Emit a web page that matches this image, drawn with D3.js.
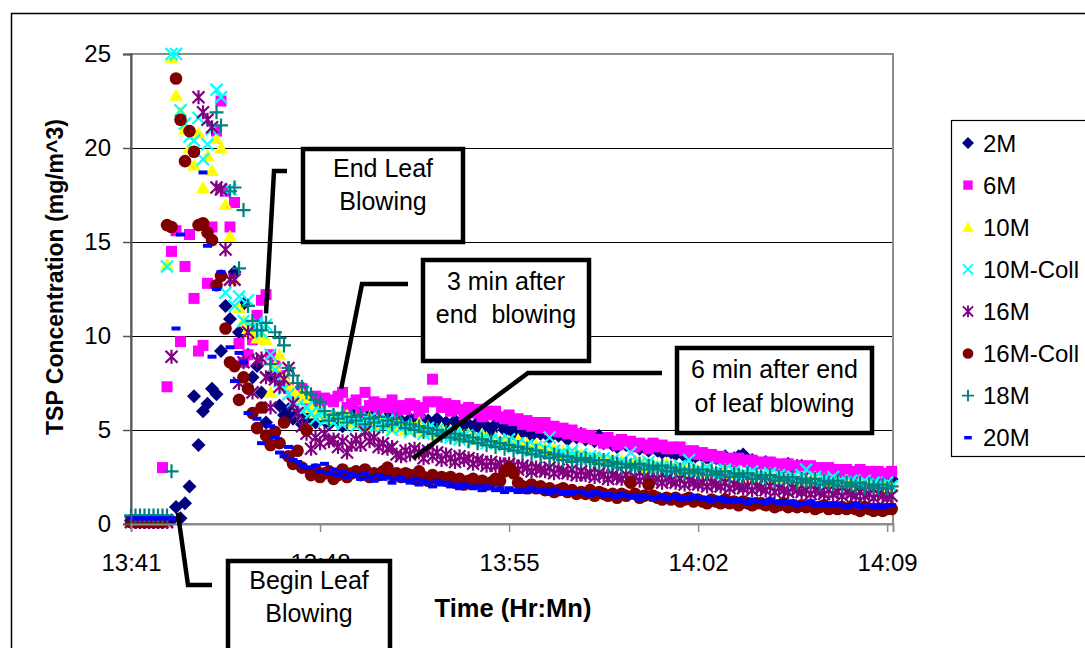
<!DOCTYPE html>
<html>
<head>
<meta charset="utf-8">
<script src="https://cdn.jsdelivr.net/npm/d3@7"></script>
<style>
  html, body { margin: 0; padding: 0; background: #fff; }
  svg { display: block; font-family: "Liberation Sans", Arial, sans-serif; }
</style>
</head>
<body>
<div id="chart"></div>
<script>
// ---- data (readings every 10 s from 13:41:00) ----
const sampleStart = '13:41:00';
const sampleStepSec = 10;
const xTickLabels = ['13:41', '13:48', '13:55', '14:02', '14:09'];
const xAxisEnd = '14:09:13';
const yTicks = [0, 5, 10, 15, 20, 25];

const seriesNames = ['2M', '6M', '10M', '10M-Coll', '16M', '16M-Coll', '18M', '20M'];
const seriesColors = ['#000080', '#FF00FF', '#FFFF00', '#00FFFF', '#800080', '#800000', '#008080', '#0000FF'];
const seriesMarkers = ['diamond', 'square', 'triangle', 'x', 'star', 'circle', 'plus', 'dash'];

const s2M = [
  0.2,0.2,0.2,0.2,0.2,0.2,0.2,0.2,0.2,0.2,
  0.9,0.3,1.1,2.0,6.8,4.2,6.0,6.4,7.2,6.9,
  9.2,11.6,10.9,13.4,10.2,11.7,9.0,7.8,8.4,7.0,
  5.4,7.9,8.5,6.3,5.8,6.1,5.6,5.9,5.3,5.7,
  5.6,5.4,5.8,5.5,5.3,5.7,5.6,5.2,5.5,5.9,
  5.4,5.6,5.3,5.8,5.5,5.2,5.6,5.7,5.4,6.2,
  5.5,5.3,5.6,5.4,5.8,5.2,5.5,5.3,5.6,5.1,
  5.4,5.2,5.5,5.0,5.3,5.3,5.1,5.4,5.0,5.2,
  4.9,5.3,5.4,5.0,5.1,4.8,5.2,4.9,5.0,4.7,
  5.0,4.8,4.9,4.6,5.0,4.7,4.8,4.5,4.9,4.6,
  4.8,4.5,4.6,4.4,4.7,4.3,4.5,4.2,4.1,4.3,
  4.2,4.1,4.2,4.0,4.1,3.9,4.1,3.9,3.8,3.9,
  3.8,3.7,3.9,3.6,3.8,3.5,3.7,3.6,3.5,3.6,
  3.5,3.4,3.6,3.4,3.5,3.6,3.7,3.3,3.4,3.3,
  3.2,3.3,3.1,3.2,3.0,3.1,3.2,3.0,3.1,3.1,
  2.9,3.0,2.8,2.9,2.8,2.9,2.7,2.8,2.7,2.6,
  2.6,2.5,2.7,2.5,2.6,2.4,2.5,2.5,2.4,2.4
];
const s6M = [
  0.1,0.1,0.1,0.1,0.1,0.1,0.1,3.0,7.3,14.5,
  15.6,9.7,13.7,15.4,12.0,9.2,9.5,12.8,15.8,20.9,
  22.5,17.7,15.8,17.1,9.6,8.6,9.0,9.8,11.1,11.9,
  12.2,9.0,8.4,7.9,7.5,7.2,7.0,6.8,7.2,6.6,
  6.5,6.8,6.3,6.7,6.6,6.5,6.8,7.0,6.2,6.4,
  6.6,6.0,7.0,6.3,6.5,6.1,6.4,6.2,6.6,6.0,
  6.3,6.1,6.4,6.3,5.9,6.2,6.5,7.7,6.5,6.2,
  6.4,6.0,6.3,6.1,5.8,6.2,5.9,6.1,5.7,6.0,
  5.8,6.0,5.7,5.6,5.8,5.5,5.6,5.3,5.5,5.2,
  5.4,5.1,5.4,5.0,5.2,4.9,5.1,4.8,5.0,4.7,
  4.8,4.6,4.7,4.5,4.5,4.3,4.6,4.4,4.2,4.5,
  4.3,4.4,4.1,4.3,4.2,4.0,4.3,4.1,4.2,4.0,
  4.1,4.0,4.1,3.9,3.8,3.9,3.7,3.8,3.6,3.7,
  3.5,3.6,3.4,3.5,3.3,3.5,3.4,3.3,3.4,3.2,
  3.3,3.2,3.3,3.1,3.2,3.0,3.2,3.1,3.0,3.1,
  3.0,3.1,2.9,3.0,2.9,3.0,2.8,2.9,2.8,2.9,
  2.8,2.7,2.9,2.7,2.8,2.7,2.8,2.6,2.7,2.8
];
const s10M = [
  0.1,0.1,0.1,0.1,0.1,0.1,0.1,0.1,13.8,24.8,
  22.8,21.9,21.0,20.0,19.1,20.8,17.9,19.6,18.8,20.5,
  20.0,17.0,15.3,13.0,11.5,10.8,10.4,10.2,9.9,10.1,
  9.8,7.0,8.4,9.0,7.8,7.4,7.1,6.8,7.0,6.7,
  6.2,5.9,6.1,5.8,5.6,5.9,5.7,5.5,5.8,5.4,
  5.6,5.3,5.5,5.7,5.2,5.4,5.6,5.3,5.1,5.4,
  5.2,5.0,5.3,5.1,5.4,4.9,5.2,5.0,4.8,5.1,
  4.9,5.0,4.7,4.9,4.6,4.8,4.7,4.5,4.8,4.6,
  4.4,4.6,4.3,4.5,4.4,4.2,4.5,4.1,4.3,4.0,
  4.2,3.9,4.1,3.8,4.0,3.7,3.9,3.8,3.6,3.8,
  3.7,3.5,3.6,3.4,3.6,3.3,3.5,3.4,3.2,3.4,
  3.3,3.2,3.4,3.1,3.3,3.0,3.2,3.1,3.0,3.2,
  3.0,3.1,2.9,3.0,2.8,3.0,2.9,2.8,2.9,2.7,
  2.8,2.7,2.9,2.6,2.8,2.7,2.6,2.7,2.5,2.7,
  2.6,2.5,2.7,2.4,2.6,2.5,2.4,2.5,2.3,2.5,
  2.4,2.3,2.5,2.2,2.4,2.3,2.2,2.3,2.1,2.3,
  2.2,2.1,2.3,2.0,2.2,2.1,2.0,2.1,1.9,2.0
];
const s10MColl = [
  0.2,0.2,0.2,0.2,0.2,0.2,0.2,0.2,13.7,25.0,
  25.0,22.0,21.3,20.6,20.4,21.6,19.4,20.2,21.0,23.1,
  22.7,12.3,17.8,11.6,12.1,10.8,11.9,10.5,10.7,10.2,
  10.6,9.0,8.2,7.6,7.2,6.9,6.5,6.3,6.0,6.2,
  5.9,5.6,6.0,5.5,5.7,5.4,5.8,5.3,5.6,5.5,
  5.2,5.5,5.3,5.6,5.1,5.4,5.2,5.5,5.0,5.3,
  5.1,5.3,4.9,5.2,5.0,4.8,5.1,4.9,5.0,4.7,
  4.9,4.6,4.8,4.5,4.7,4.6,4.4,4.7,4.5,4.3,
  4.5,4.3,4.4,4.2,4.5,4.1,4.3,4.0,4.2,3.9,
  4.1,3.8,4.0,4.6,3.9,3.7,3.8,3.6,3.9,3.5,
  3.7,3.4,3.6,3.5,3.3,3.5,3.2,3.4,3.1,3.3,
  3.2,3.8,3.0,3.2,3.1,3.3,2.9,3.1,3.0,2.8,
  3.0,2.9,3.1,2.8,3.4,2.7,2.9,2.8,3.0,2.7,
  2.8,2.6,2.9,2.7,2.8,2.5,2.7,2.6,2.8,2.5,
  2.6,2.5,2.7,2.4,2.6,2.5,2.3,2.5,2.4,2.6,
  2.9,2.3,2.5,2.2,2.4,2.3,2.5,2.2,2.3,2.1,
  2.3,2.2,2.1,2.3,2.0,2.2,2.1,2.0,2.2,2.0
];
const s16M = [
  0.1,0.1,0.1,0.1,0.1,0.1,0.1,0.1,0.1,8.9,
  null,null,null,null,null,22.7,21.9,21.5,21.1,17.9,
  17.8,14.6,13.0,13.0,7.5,8.6,10.2,7.0,8.7,8.8,
  7.8,6.2,7.7,7.3,7.7,8.3,6.4,5.9,5.2,4.8,
  4.0,4.6,4.3,4.8,4.4,4.5,4.1,4.4,3.8,4.2,
  4.5,4.2,4.9,4.4,4.6,4.1,4.3,4.0,4.1,3.7,
  3.6,3.9,3.7,4.0,3.8,3.5,3.9,3.6,3.8,3.4,
  3.7,3.5,3.3,3.6,3.4,3.5,3.2,3.4,3.3,3.1,
  3.3,3.1,3.2,3.0,3.2,3.1,2.9,3.1,3.0,2.8,
  3.0,2.9,2.8,3.0,2.7,2.9,2.8,2.7,2.9,2.6,
  2.8,2.6,2.7,2.5,2.7,2.6,2.4,2.6,2.5,2.4,
  2.6,2.4,2.5,2.3,2.5,2.4,2.3,2.4,2.2,2.4,
  2.3,2.2,2.4,2.1,2.3,2.2,2.1,2.2,2.0,2.2,
  2.1,2.0,2.2,1.9,2.1,2.0,1.9,2.0,1.8,2.0,
  1.9,1.8,2.0,1.7,1.9,1.8,1.7,1.9,1.8,1.7,
  1.8,1.6,1.8,1.7,1.6,1.8,1.6,1.7,1.5,1.7,
  1.6,1.5,1.7,1.5,1.6,1.4,1.6,1.5,1.4,1.5
];
const s16MColl = [
  0.1,0.1,0.1,0.1,0.1,0.1,0.1,0.1,15.9,15.8,
  23.7,21.5,19.3,20.9,19.8,15.9,16.0,15.5,15.1,12.7,
  13.2,10.4,8.6,8.4,6.6,7.8,7.2,5.9,5.1,6.2,
  4.7,4.2,4.9,4.3,5.4,3.6,3.2,3.9,3.0,5.0,
  2.6,2.9,2.5,2.7,2.8,2.4,2.6,2.9,2.5,2.7,
  2.8,2.6,2.9,2.5,2.7,2.6,2.8,3.0,2.6,2.7,
  2.5,2.7,2.6,2.4,2.8,2.5,2.3,2.6,2.4,2.5,
  2.3,2.5,2.2,2.4,2.1,2.3,2.4,2.2,2.3,2.1,
  2.2,2.4,2.3,2.8,3.0,2.7,2.2,2.0,1.9,2.1,
  1.9,2.0,1.8,1.9,1.7,1.8,1.9,1.7,1.8,1.6,
  1.7,1.6,1.8,1.5,1.7,1.6,1.5,1.6,1.4,1.6,
  1.5,2.2,1.6,1.4,1.5,2.1,1.5,1.4,1.3,1.4,
  1.3,1.4,1.2,1.3,1.4,1.2,1.3,1.2,1.1,1.3,
  1.2,1.1,1.3,1.1,1.2,1.0,1.2,1.1,1.0,1.1,
  1.1,1.0,1.1,0.9,1.0,1.1,0.9,1.0,0.9,1.0,
  0.9,1.0,0.8,0.9,1.0,0.8,0.9,0.8,0.9,0.8,
  0.9,0.8,0.7,0.9,0.8,0.7,0.8,0.7,0.8,0.8
];
const s18M = [
  0.45,0.45,0.45,0.45,0.45,0.45,0.45,0.45,0.45,2.8,
  null,null,null,null,null,null,null,null,null,21.9,
  21.2,null,17.7,17.9,13.6,16.7,11.6,10.8,10.3,10.3,
  10.7,8.5,10.2,9.9,9.5,8.3,7.9,7.5,7.3,7.0,
  6.9,6.6,6.5,6.0,5.5,5.8,5.6,5.9,5.4,5.7,
  5.5,5.8,5.3,5.6,5.4,5.7,5.2,5.5,5.3,5.6,
  5.4,5.1,5.3,5.0,5.2,4.9,5.1,4.8,5.0,4.7,
  4.9,4.6,4.8,4.5,4.7,4.4,4.6,4.3,4.5,4.2,
  4.4,4.1,4.3,4.0,4.2,3.9,4.1,3.8,4.0,3.7,
  3.9,3.6,3.8,3.5,3.7,3.6,3.4,3.6,3.3,3.5,
  3.4,3.5,3.3,3.4,3.2,3.4,3.1,3.3,3.2,3.0,
  3.2,3.1,3.0,3.2,2.9,3.1,3.0,2.9,3.1,2.8,
  3.0,2.8,2.9,2.7,2.9,2.8,2.7,2.9,2.6,2.8,
  2.7,2.6,2.8,2.5,2.7,2.6,2.5,2.7,2.4,2.6,
  2.5,2.4,2.6,2.3,2.5,2.4,2.3,2.5,2.2,2.4,
  2.3,2.2,2.4,2.1,2.3,2.2,2.1,2.3,2.0,2.2,
  2.1,2.0,2.2,1.9,2.1,2.0,1.9,2.1,1.9,2.0
];
const s20M = [
  0.3,0.3,0.3,0.3,0.3,0.3,0.3,0.3,0.3,0.3,
  10.4,15.4,null,null,null,null,18.7,14.8,8.9,12.5,
  13.4,null,9.4,7.6,9.1,8.6,5.9,null,5.6,4.3,
  null,5.2,4.6,3.8,3.6,4.1,3.4,3.3,3.1,3.0,
  3.0,3.1,2.8,3.2,2.7,2.9,2.6,2.8,2.5,2.7,
  2.6,2.4,2.7,2.5,2.3,2.6,2.4,2.5,2.2,2.4,
  2.5,2.3,2.2,2.4,2.1,2.3,2.2,2.0,2.3,2.1,
  2.2,2.0,2.1,1.9,2.1,2.0,1.9,2.0,1.8,2.0,
  1.9,1.8,1.9,1.7,1.9,1.8,1.7,1.8,1.7,1.9,
  1.8,1.7,1.8,1.6,1.8,1.7,1.6,1.7,1.6,1.7,
  1.7,1.6,1.5,1.7,1.6,1.5,1.6,1.5,1.4,1.6,
  1.5,1.4,1.5,1.3,1.5,1.4,1.3,1.4,1.5,1.3,
  1.4,1.5,1.3,1.4,1.3,1.5,1.4,1.3,1.4,1.2,
  1.3,1.4,1.2,1.3,1.2,1.3,1.2,1.1,1.3,1.2,
  1.2,1.1,1.3,1.2,1.1,1.2,1.1,1.2,1.0,1.1,
  1.1,1.2,1.0,1.1,1.0,1.1,1.0,1.1,1.0,0.9,
  1.0,1.1,0.9,1.0,1.0,0.9,1.0,0.9,1.0,1.0
];
const seriesValues = [s2M, s6M, s10M, s10MColl, s16M, s16MColl, s18M, s20M];

// callouts: pointer tip in data coords, elbow + box in pixels
const callouts = [
  { lines: ['End Leaf', 'Blowing'], tip: ['13:46:00', 11.2], path: [[274, 171], [287, 171]],
    box: [303, 149, 160, 93], baselines: [177, 210] },
  { lines: ['3 min after', 'end  blowing'], tip: ['13:48:47', 7.2], path: [[362, 284], [408, 284]],
    box: [423, 260, 166, 101], baselines: [290, 323] },
  { lines: ['6 min after end', 'of leaf blowing'], tip: ['13:51:27', 3.5], path: [[528, 373], [662, 373]],
    box: [677, 348, 195, 85], baselines: [378, 412] },
  { lines: ['Begin Leaf', 'Blowing'], tip: ['13:42:44', 0.6], path: [[188, 585], [212, 585]],
    box: [228, 561, 162, 100], baselines: [589, 622] }
];

// ---- layout ----
const W = 1085, H = 648;
const plot = { left: 131, right: 893, top: 54, bottom: 524 };

const parseT = d3.timeParse('%H:%M:%S');
const parseHM = d3.timeParse('%H:%M');
const t0 = parseT(sampleStart);

const x = d3.scaleTime()
  .domain([t0, parseT(xAxisEnd)])
  .range([plot.left, plot.right]);
const y = d3.scaleLinear()
  .domain([0, 25])
  .range([plot.bottom, plot.top]);

const svg = d3.select('#chart').append('svg')
  .attr('width', W).attr('height', H);

// outer chart border
svg.append('rect')
  .attr('x', 11.5).attr('y', 13.5).attr('width', 1200).attr('height', 800)
  .attr('fill', '#fff').attr('stroke', '#000').attr('stroke-width', 1.5);

// gridlines
svg.append('g').selectAll('line')
  .data(yTicks.filter((v) => v > 0 && v < 25))
  .enter().append('line')
  .attr('x1', plot.left).attr('x2', plot.right)
  .attr('y1', (d) => y(d) + 0.5).attr('y2', (d) => y(d) + 0.5)
  .attr('stroke', '#000').attr('stroke-width', 1)
  .attr('shape-rendering', 'crispEdges');

// plot frame
svg.append('rect')
  .attr('x', plot.left).attr('y', plot.top)
  .attr('width', plot.right - plot.left).attr('height', plot.bottom - plot.top)
  .attr('fill', 'none').attr('stroke', '#8c8c8c').attr('stroke-width', 2);

// marker shapes
function markerPath(kind) {
  switch (kind) {
    case 'diamond': return 'M0,-7L7,0L0,7L-7,0Z';
    case 'square': return 'M-5.5,-5.5H5.5V5.5H-5.5Z';
    case 'triangle': return 'M0,-6.5L7,5.5L-7,5.5Z';
    case 'x': return 'M-6,-6L6,6M-6,6L6,-6';
    case 'star': return 'M-6,-6L6,6M-6,6L6,-6M0,-7V7';
    case 'circle': return d3.symbol(d3.symbolCircle, Math.PI * 6.3 * 6.3)();
    case 'plus': return 'M-7,0H7M0,-7V7';
    case 'dash': return 'M-4.5,-2H4.5V2H-4.5Z';
  }
}
const strokeOnly = { x: true, star: true, plus: true };

function styleMarker(sel, i) {
  const kind = seriesMarkers[i];
  if (strokeOnly[kind]) {
    sel.attr('fill', 'none').attr('stroke', seriesColors[i]).attr('stroke-width', 2.2);
  } else {
    sel.attr('fill', seriesColors[i]).attr('stroke', 'none');
  }
}

// series
seriesNames.forEach((name, i) => {
  const pts = seriesValues[i]
    .map((v, k) => ({ t: d3.timeSecond.offset(t0, k * sampleStepSec), v: v }))
    .filter((d) => d.v != null);
  const g = svg.append('g').attr('class', 'series s' + i);
  g.selectAll('path')
    .data(pts)
    .enter().append('path')
    .attr('d', markerPath(seriesMarkers[i]))
    .attr('transform', (d) => `translate(${x(d.t)},${y(d.v)})`)
    .call(styleMarker, i);
});

// y axis
const yAxis = svg.append('g')
  .attr('transform', `translate(${plot.left},0)`)
  .call(d3.axisLeft(y).tickValues(yTicks).tickSize(8).tickPadding(12));
yAxis.select('.domain').attr('stroke', '#555').attr('stroke-width', 2);
yAxis.selectAll('.tick line').attr('stroke', '#555').attr('stroke-width', 1.5);
yAxis.selectAll('.tick text')
  .attr('font-size', 24).attr('font-family', '"Liberation Sans", Arial, sans-serif').attr('fill', '#000');

// x axis
const xAxis = svg.append('g')
  .attr('transform', `translate(0,${plot.bottom})`)
  .call(d3.axisBottom(x)
    .tickValues(xTickLabels.map(parseHM))
    .tickFormat(d3.timeFormat('%H:%M'))
    .tickSize(8).tickPadding(22));
xAxis.select('.domain').attr('stroke', '#8c8c8c').attr('stroke-width', 2);
xAxis.selectAll('.tick line').attr('stroke', '#8c8c8c').attr('stroke-width', 1.5);
xAxis.selectAll('.tick text')
  .attr('font-size', 24).attr('font-family', '"Liberation Sans", Arial, sans-serif').attr('fill', '#000');

// axis titles
svg.append('text')
  .attr('transform', 'translate(63,277) rotate(-90)')
  .attr('text-anchor', 'middle')
  .attr('font-size', 23).attr('font-weight', 'bold')
  .text('TSP Concentration (mg/m^3)');
svg.append('text')
  .attr('x', 513).attr('y', 617)
  .attr('text-anchor', 'middle')
  .attr('font-size', 25.5).attr('font-weight', 'bold')
  .text('Time (Hr:Mn)');

// callouts
const cg = svg.append('g');
callouts.forEach((c) => {
  const tip = [x(parseT(c.tip[0])), y(c.tip[1])];
  cg.append('path')
    .attr('d', d3.line()([tip].concat(c.path)))
    .attr('fill', 'none').attr('stroke', '#000').attr('stroke-width', 4.5);
  const [bx, by, bw, bh] = c.box;
  cg.append('rect')
    .attr('x', bx).attr('y', by).attr('width', bw).attr('height', bh)
    .attr('fill', '#fff').attr('stroke', '#000').attr('stroke-width', 4.5);
  c.lines.forEach((ln, k) => {
    cg.append('text')
      .attr('x', bx + bw / 2).attr('y', c.baselines[k])
      .attr('text-anchor', 'middle')
      .attr('font-size', 25)
      .style('white-space', 'pre')
      .text(ln);
  });
});

// legend
const lg = svg.append('g').attr('transform', 'translate(951,120)');
lg.append('rect')
  .attr('x', 0.5).attr('y', 0.5).attr('width', 200).attr('height', 336)
  .attr('fill', '#fff').attr('stroke', '#000').attr('stroke-width', 1.2);
seriesNames.forEach((name, i) => {
  const cy = 23 + i * 42.1;
  lg.append('path')
    .attr('d', markerPath(seriesMarkers[i]))
    .attr('transform', `translate(17,${cy}) scale(0.85)`)
    .call(styleMarker, i);
  lg.append('text')
    .attr('x', 32).attr('y', cy + 8.5)
    .attr('font-size', 24)
    .text(name);
});
</script>
</body>
</html>
